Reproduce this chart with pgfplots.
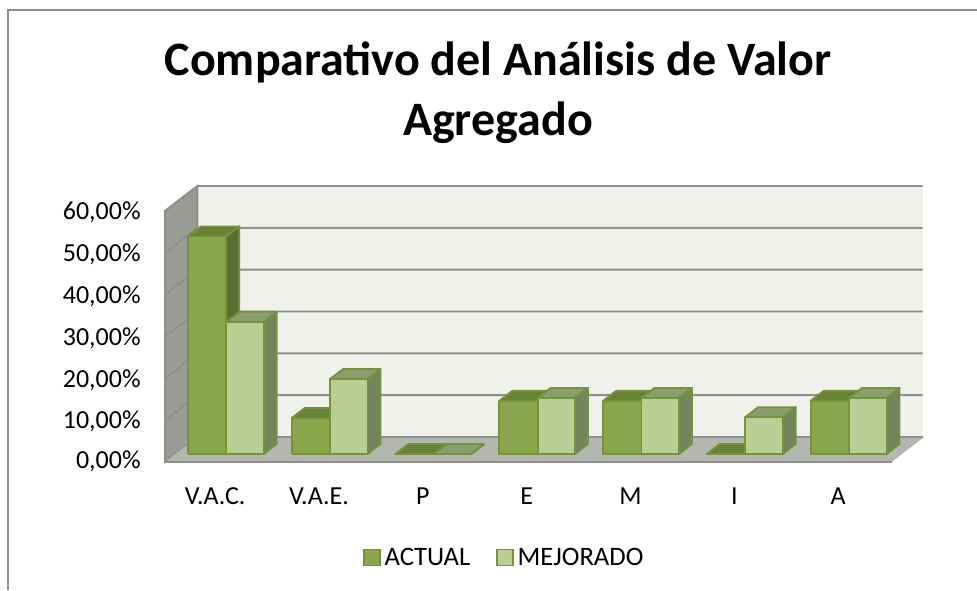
\documentclass[border=0pt]{standalone}
\usepackage{pgfplots}
\pgfplotsset{compat=1.18}
\usepackage{fontspec}
\setmainfont{Carlito}
\definecolor{wallback}{HTML}{EFF2EB}
\definecolor{wallleft}{HTML}{999B96}
\definecolor{floorc}{HTML}{B4B6B0}
\definecolor{gridc}{HTML}{8E908C}
\definecolor{edgec}{HTML}{76923C}
\definecolor{afront}{HTML}{8AA64D}
\definecolor{atop}{HTML}{6A8237}
\definecolor{aside}{HTML}{5A6F2E}
\definecolor{mfront}{HTML}{BACD93}
\definecolor{mtop}{HTML}{8B9C6D}
\definecolor{mside}{HTML}{74845C}
% #1 left x, #2 right x, #3 value, #4 front, #5 top, #6 side
\newcommand{\threedbar}[6]{%
  \addplot3[forget plot,fill=#5,draw=edgec,line width=1.4pt,line join=round,mark=none]
    coordinates {(#1,0.32,#3)(#2,0.32,#3)(#2,0.72,#3)(#1,0.72,#3)} -- cycle;
  \addplot3[forget plot,fill=#6,draw=edgec,line width=1.4pt,line join=round,mark=none]
    coordinates {(#2,0.32,0)(#2,0.72,0)(#2,0.72,#3)(#2,0.32,#3)} -- cycle;
  \addplot3[forget plot,fill=#4,draw=edgec,line width=1.4pt,line join=round,mark=none]
    coordinates {(#1,0.32,0)(#2,0.32,0)(#2,0.32,#3)(#1,0.32,#3)} -- cycle;
}
\newcommand{\gridl}[1]{%
  \addplot3[forget plot,draw=gridc,line width=1.4pt,mark=none]
    coordinates {(0,0,#1)(0,1,#1)(6.985,1,#1)};
}
\begin{document}
\begin{tikzpicture}[x=0.75pt,y=0.75pt]
\path[use as bounding box] (0,0) rectangle (977,590);
\draw[color=gray!90,line width=1.1pt] (8,0) -- (8,580) -- (977,580);
\node[align=center,font=\fontsize{36}{45}\selectfont\bfseries,anchor=center] at (498,497)
  {Comparativo del Análisis de Valor\\Agregado};
\begin{axis}[
  at={(123.75pt,96pt)},anchor=origin,
  x={(77.85pt,0pt)},y={(24.4pt,18.75pt)},z={(0pt,3.1375pt)},
  xmin=0,xmax=6.985,ymin=0,ymax=1,zmin=0,zmax=60,
  clip=false,
  axis line style={draw=none},
  major tick length=0pt,
  ytick=\empty,
  xtick={0.5,1.5,2.5,3.5,4.5,5.5,6.5},
  xticklabels={V.A.C.,V.A.E.,P,E,M,I,A},
  ztick={0,10,20,30,40,50,60},
  zticklabels={{0,00\%},{10,00\%},{20,00\%},{30,00\%},{40,00\%},{50,00\%},{60,00\%}},
  xticklabel pos=lower,
  tick label style={font=\fontsize{19.5}{23}\selectfont},
  xticklabel style={yshift=-15.75pt,xshift=3.6pt},
  zticklabel style={xshift=-14.75pt,yshift=10pt},
  legend columns=2,
  legend style={draw=none,fill=none,font=\fontsize{20}{24}\selectfont,
    at={(axis cs:3.27,0,-23)},anchor=center,
    /tikz/every even column/.style={column sep=17pt}},
  legend image code/.code={\draw[#1,line width=1.4pt] (0pt,-5.5pt) rectangle (12pt,6.5pt); \path (13.5pt,0pt);},
]
% walls and floor
\addplot3[forget plot,fill=wallback,draw=none,mark=none] coordinates {(0,1,0)(6.985,1,0)(6.985,1,60)(0,1,60)} -- cycle;
\addplot3[forget plot,fill=wallleft,draw=gridc,line width=1.4pt,mark=none] coordinates {(0,0,0)(0,1,0)(0,1,60)(0,0,60)} -- cycle;
\addplot3[forget plot,fill=floorc,draw=none,mark=none] coordinates {(0,0,0)(7,0,0)(7,1,0)(0,1,0)} -- cycle;
\addplot3[forget plot,draw=gridc,line width=1.6pt,mark=none] coordinates {(0,0,60)(0,0,0)(7,0,0)};
\gridl{10}\gridl{20}\gridl{30}\gridl{40}\gridl{50}\gridl{60}
\addplot3[forget plot,draw=gridc,line width=1pt,mark=none] coordinates {(0,1,0)(6.985,1,0)};
% bars: left, right, value
\threedbar{0.12}{0.49}{52}{afront}{atop}{aside}
\threedbar{0.49}{0.85}{31.6}{mfront}{mtop}{mside}
\threedbar{1.12}{1.49}{8.6}{afront}{atop}{aside}
\threedbar{1.49}{1.85}{17.9}{mfront}{mtop}{mside}
\threedbar{2.12}{2.49}{0}{afront}{atop}{aside}
\threedbar{2.49}{2.85}{0}{mfront}{mtop}{mside}
\threedbar{3.12}{3.49}{12.7}{afront}{atop}{aside}
\threedbar{3.49}{3.85}{13.4}{mfront}{mtop}{mside}
\threedbar{4.12}{4.49}{12.7}{afront}{atop}{aside}
\threedbar{4.49}{4.85}{13.4}{mfront}{mtop}{mside}
\threedbar{5.12}{5.49}{0}{afront}{atop}{aside}
\threedbar{5.49}{5.85}{8.8}{mfront}{mtop}{mside}
\threedbar{6.12}{6.49}{12.7}{afront}{atop}{aside}
\threedbar{6.49}{6.85}{13.4}{mfront}{mtop}{mside}
\addlegendimage{fill=afront,draw=edgec}
\addlegendentry{ACTUAL}
\addlegendimage{fill=mfront,draw=edgec}
\addlegendentry{MEJORADO}
\end{axis}
\end{tikzpicture}
\end{document}
